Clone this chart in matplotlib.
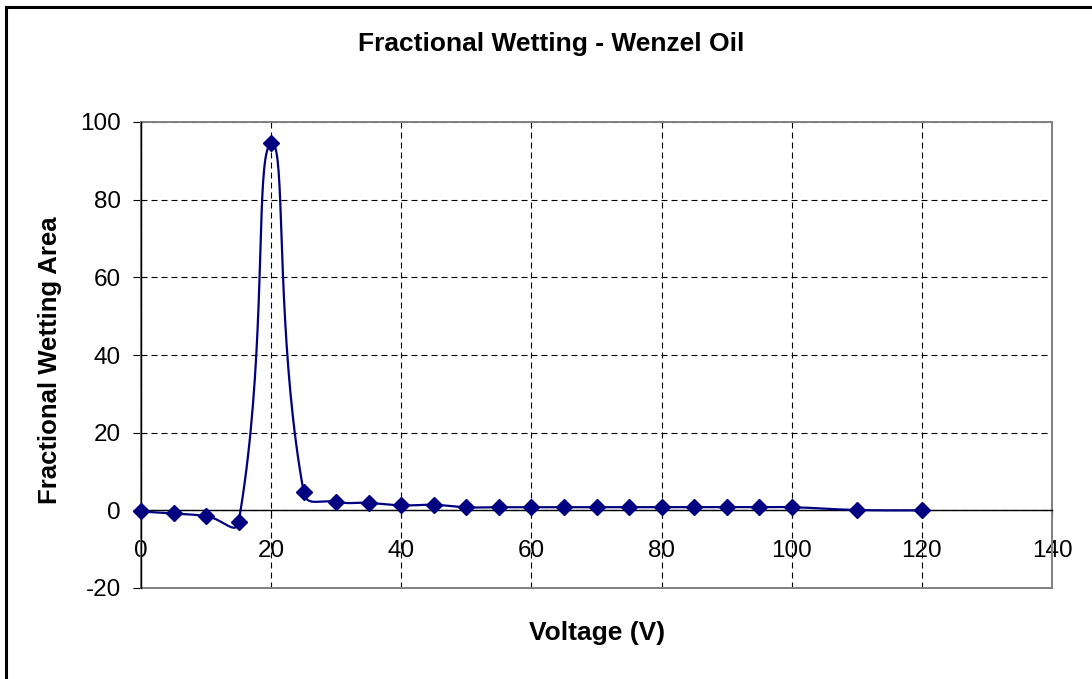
import numpy as np
import matplotlib
matplotlib.use("Agg")
import matplotlib.pyplot as plt
from matplotlib.patches import Rectangle
from matplotlib.lines import Line2D

plt.rcParams['font.family'] = ['Liberation Sans', 'DejaVu Sans']
plt.rcParams['axes.unicode_minus'] = False

# Measured fractional wetting area versus applied voltage
voltage = [0, 5, 10, 15, 20, 25, 30, 35, 40, 45, 50, 55, 60, 65, 70, 75,
           80, 85, 90, 95, 100, 110, 120]
wetting = [-0.3, -0.8, -1.5, -3.0, 94.5, 4.7, 2.2, 1.9, 1.3, 1.4, 0.8, 0.8,
           0.8, 0.8, 0.8, 0.8, 0.8, 0.8, 0.8, 0.8, 0.8, 0.1, 0.0]

title = "Fractional Wetting - Wenzel Oil"
xlabel = "Voltage (V)"
ylabel = "Fractional Wetting Area"
xticks = [0, 20, 40, 60, 80, 100, 120, 140]
yticks = [-20, 0, 20, 40, 60, 80, 100]

NAVY = "#000080"


def smooth_curve(ax, xs, ys, tension=0.5, steps=40):
    """Bezier smoothing through every point, with tangents weighted by
    on-screen segment lengths."""
    p = ax.transData.transform(np.column_stack([xs, ys]).astype(float))
    n = len(p)
    out = []
    for i in range(n - 1):
        p0 = p[i - 1] if i > 0 else p[i]
        p1 = p[i]
        p2 = p[i + 1]
        p3 = p[i + 2] if i + 2 < n else p[i + 1]
        d01 = np.hypot(*(p1 - p0))
        d12 = np.hypot(*(p2 - p1))
        d23 = np.hypot(*(p3 - p2))
        f1 = d12 / (d01 + d12) if d01 + d12 > 0 else 0.0
        f2 = d12 / (d12 + d23) if d12 + d23 > 0 else 0.0
        c1 = p1 + (p2 - p0) * f1 * tension
        c2 = p2 - (p3 - p1) * f2 * tension
        t = np.linspace(0, 1, steps, endpoint=(i == n - 2))[:, None]
        seg = ((1 - t) ** 3) * p1 + 3 * ((1 - t) ** 2) * t * c1 \
            + 3 * (1 - t) * t ** 2 * c2 + t ** 3 * p2
        out.append(seg)
    out = ax.transData.inverted().transform(np.vstack(out))
    return out[:, 0], out[:, 1]


W, H = 1092, 679
fig = plt.figure(figsize=(W / 100, H / 100), dpi=100)
fig.patch.set_facecolor("white")

# chart-area frame (top and left edges)
fig.add_artist(Line2D([6 / W, 6 / W], [0, 1 - 7 / H], transform=fig.transFigure,
                      color="black", lw=2.2, solid_capstyle="projecting"))
fig.add_artist(Line2D([6 / W, 1], [1 - 7 / H, 1 - 7 / H], transform=fig.transFigure,
                      color="black", lw=2.2, solid_capstyle="projecting"))

left, right, top, bottom = 141, 1052, 122, 588
ax = fig.add_axes([left / W, 1 - bottom / H, (right - left) / W, (bottom - top) / H])
ax.set_xlim(0, 140)
ax.set_ylim(-20, 100)

for s in ["top", "right"]:
    ax.spines[s].set_visible(False)
ax.spines["bottom"].set_position(("data", 0))
ax.spines["bottom"].set_color("black")
ax.spines["bottom"].set_linewidth(1.0)
ax.spines["left"].set_color("black")
ax.spines["left"].set_linewidth(1.0)
ax.spines["left"].set_zorder(4)
ax.add_patch(Rectangle((0, 0), 1, 1, transform=ax.transAxes, fill=False,
                       edgecolor="#808080", lw=1.4, zorder=1, clip_on=False))

ax.set_xticks(xticks)
ax.set_yticks(yticks)
ax.tick_params(axis="both", direction="out", length=5.5, width=0.8,
               labelsize=17.5, color="black")
ax.tick_params(axis="x", pad=16)
ax.tick_params(axis="y", pad=9)
ax.grid(True, color="black", lw=0.8, linestyle=(0, (5.4, 3.6)), zorder=0)
ax.set_axisbelow(True)

sx, sy = smooth_curve(ax, voltage, wetting)
ax.plot(sx, sy, color=NAVY, lw=1.6, zorder=5, clip_on=False)
ax.plot(voltage, wetting, linestyle="none", marker="D", markersize=8,
        color=NAVY, zorder=6, clip_on=False)

fig.text(551 / W, 1 - 44 / H, title, ha="center", va="center",
         fontsize=19, fontweight="bold")
fig.text(597 / W, 1 - 633 / H, xlabel, ha="center", va="center",
         fontsize=19, fontweight="bold")
fig.text(50 / W, 1 - 360 / H, ylabel, ha="center", va="center",
         rotation=90, fontsize=18.5, fontweight="bold")

fig.savefig("out.png", dpi=100, facecolor="white")
